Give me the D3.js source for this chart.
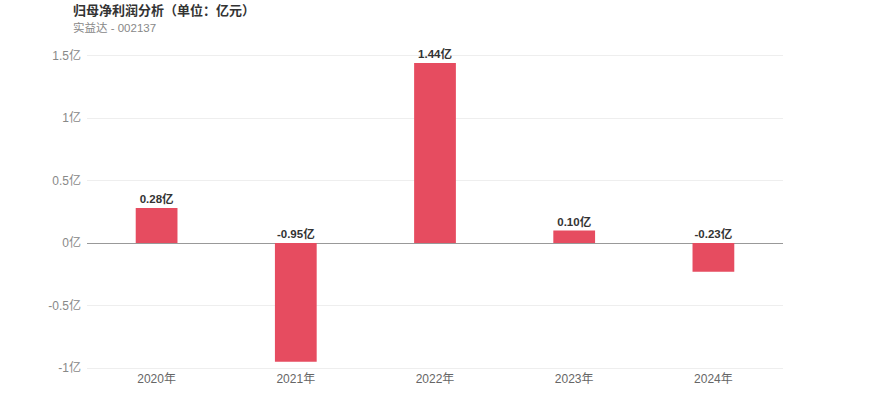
<!DOCTYPE html>
<html><head><meta charset="utf-8">
<script src="https://cdn.jsdelivr.net/npm/d3@7/dist/d3.min.js"></script>
<style>body{margin:0;background:#fff;font-family:"Liberation Sans","Noto Sans CJK SC",sans-serif;}</style>
</head><body><svg id="c" width="870" height="417"></svg>
<script>
const categories = ["2020年","2021年","2022年","2023年","2024年"];
const values = [0.28,-0.95,1.44,0.10,-0.23];
const valueLabels = ["0.28亿","-0.95亿","1.44亿","0.10亿","-0.23亿"];
const yTicks = [-1,-0.5,0,0.5,1,1.5];
const yTickLabels = ["-1亿","-0.5亿","0亿","0.5亿","1亿","1.5亿"];

const svg = d3.select("#c");
const x = d3.scaleBand().domain(categories).range([87,783]).paddingInner(0.7).paddingOuter(0.35);
const y = d3.scaleLinear().domain([-1,1.5]).range([368,55.5]);

svg.append("text").attr("x",73).attr("y",15).attr("font-size",13).attr("font-weight","bold").attr("fill","#333").text("归母净利润分析（单位：亿元）");
svg.append("text").attr("x",73).attr("y",32).attr("font-size",11.5).attr("fill","#888").text("实益达 - 002137");

svg.append("g").selectAll("line").data(yTicks).join("line")
  .attr("x1",87).attr("x2",783).attr("y1",d=>y(d)).attr("y2",d=>y(d))
  .attr("stroke",d=>d===0?"#999":"#eeeeee").attr("stroke-width",1).attr("shape-rendering","crispEdges");

svg.append("g").selectAll("text").data(yTicks).join("text")
  .attr("x",81).attr("y",d=>y(d)+4).attr("text-anchor","end").attr("font-size",12).attr("fill","#888")
  .text((d,i)=>yTickLabels[i]);

svg.append("g").selectAll("rect").data(values).join("rect")
  .attr("x",(d,i)=>x(categories[i])).attr("width",x.bandwidth())
  .attr("y",d=>y(Math.max(0,d))).attr("height",d=>Math.abs(y(d)-y(0)))
  .attr("fill","#e64c60");

svg.append("g").selectAll("text").data(values).join("text")
  .attr("x",(d,i)=>x(categories[i])+x.bandwidth()/2).attr("y",d=>y(Math.max(0,d))-5)
  .attr("text-anchor","middle").attr("font-size",11.5).attr("font-weight","bold").attr("fill","#333")
  .text((d,i)=>valueLabels[i]);

svg.append("g").selectAll("text").data(categories).join("text")
  .attr("x",d=>x(d)+x.bandwidth()/2).attr("y",383).attr("text-anchor","middle").attr("font-size",12).attr("fill","#666")
  .text(d=>d);
</script></body></html>
